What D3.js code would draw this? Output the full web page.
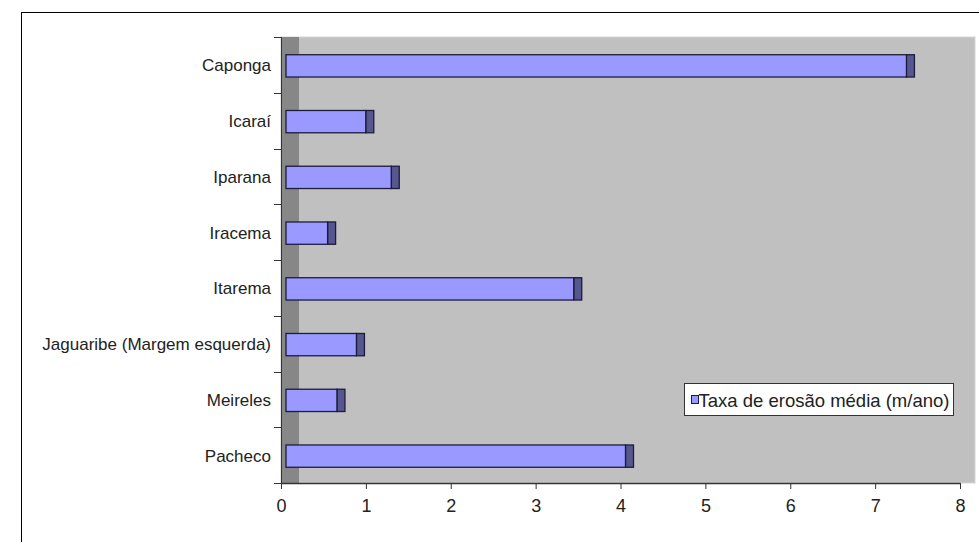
<!DOCTYPE html>
<html>
<head>
<meta charset="utf-8">
<script src="https://cdn.jsdelivr.net/npm/d3@7"></script>
<style>
  html, body { margin: 0; padding: 0; background: #fff; }
  svg { display: block; font-family: "Liberation Sans", Arial, sans-serif; }
</style>
</head>
<body>
<svg id="chart" width="979" height="542"></svg>
<script>
// Beach sites and their mean erosion rate (m/year)
const categories = ["Caponga", "Icaraí", "Iparana", "Iracema", "Itarema",
  "Jaguaribe (Margem esquerda)", "Meireles", "Pacheco"];
const erosionRate = [7.31, 0.94, 1.24, 0.49, 3.39, 0.83, 0.6, 4.0];
const xTicks = [0, 1, 2, 3, 4, 5, 6, 7, 8];
const seriesName = "Taxa de erosão média (m/ano)";

const svg = d3.select("#chart");

const plot = { left: 281, right: 975, top: 37, bottom: 483 };
const axisEnd = 960;
const wallDepth = 18;     // visible width of the 3D side wall
const barShift = 5;       // horizontal offset of the bar front faces
const capWidth = 8;       // visible end face of each bar

const x = d3.scaleLinear().domain([0, 8]).range([plot.left, axisEnd]);
const y = d3.scaleBand().domain(categories)
  .range([plot.top, plot.bottom]).paddingInner(0.6).paddingOuter(0.3);
const yEdges = d3.scaleBand().domain(categories).range([plot.top, plot.bottom]);

// outer chart frame
svg.append("rect")
  .attr("x", 21.5).attr("y", 12.5)
  .attr("width", 1100).attr("height", 700)
  .attr("fill", "#fff").attr("stroke", "#000").attr("stroke-width", 1);

// back wall and side wall
svg.append("rect")
  .attr("x", plot.left).attr("y", plot.top)
  .attr("width", plot.right - plot.left).attr("height", plot.bottom - plot.top)
  .attr("fill", "#c0c0c0").attr("stroke", "#d4d4d4").attr("stroke-width", 1);
svg.append("rect")
  .attr("x", plot.left).attr("y", plot.top)
  .attr("width", wallDepth).attr("height", plot.bottom - plot.top)
  .attr("fill", "#878787");

// bars: front face plus darker end face
const bars = svg.append("g").selectAll("g").data(categories).join("g");
bars.append("rect")
  .attr("x", (d, i) => x(erosionRate[i]) + barShift)
  .attr("y", d => y(d) + 1)
  .attr("width", capWidth)
  .attr("height", y.bandwidth())
  .attr("fill", "#57578f").attr("stroke", "#1c1c3c").attr("stroke-width", 1.3);
bars.append("rect")
  .attr("x", x(0) + barShift)
  .attr("y", d => y(d) + 1)
  .attr("width", (d, i) => x(erosionRate[i]) - x(0))
  .attr("height", y.bandwidth())
  .attr("fill", "#9999ff").attr("stroke", "#1c1c3c").attr("stroke-width", 1.3);

// category axis
const yAxis = svg.append("g");
yAxis.append("line")
  .attr("x1", plot.left + 0.5).attr("x2", plot.left + 0.5)
  .attr("y1", plot.top).attr("y2", plot.bottom)
  .attr("stroke", "#333").attr("stroke-width", 1);
yAxis.selectAll("line.tick")
  .data(categories.map(c => yEdges(c)).concat([plot.bottom]))
  .join("line").attr("class", "tick")
  .attr("x1", plot.left - 7).attr("x2", plot.left)
  .attr("y1", d => Math.round(d) + 0.5).attr("y2", d => Math.round(d) + 0.5)
  .attr("stroke", "#333");
yAxis.selectAll("text").data(categories).join("text")
  .attr("x", 271)
  .attr("y", d => yEdges(d) + yEdges.bandwidth() / 2 + 1)
  .attr("text-anchor", "end").attr("dominant-baseline", "central")
  .attr("font-size", 17).attr("fill", "#222")
  .text(d => d);

// value axis
const xAxis = svg.append("g").attr("transform", `translate(0,${plot.bottom})`)
  .call(d3.axisBottom(x).tickValues(xTicks).tickSize(6).tickSizeOuter(0)
    .tickFormat(d3.format("d")));
xAxis.select(".domain").attr("stroke", "#333").attr("stroke-width", 1.3);
xAxis.selectAll(".tick line").attr("stroke", "#333");
xAxis.selectAll(".tick text")
  .attr("font-size", 18).attr("fill", "#222")
  .attr("font-family", "Liberation Sans, Arial, sans-serif")
  .attr("dy", "0.9em").attr("y", 13);

// legend
const legend = svg.append("g").attr("transform", "translate(684.5,383.5)");
legend.append("rect")
  .attr("width", 269).attr("height", 32)
  .attr("fill", "#fff").attr("stroke", "#333").attr("stroke-width", 1);
legend.append("rect")
  .attr("x", 7).attr("y", 12).attr("width", 7).attr("height", 8)
  .attr("fill", "#9999ff").attr("stroke", "#1c1c3c").attr("stroke-width", 1);
legend.append("text")
  .attr("x", 14).attr("y", 16.5)
  .attr("dominant-baseline", "central")
  .attr("font-size", 18.5).attr("fill", "#222")
  .text(seriesName);
</script>
</body>
</html>
